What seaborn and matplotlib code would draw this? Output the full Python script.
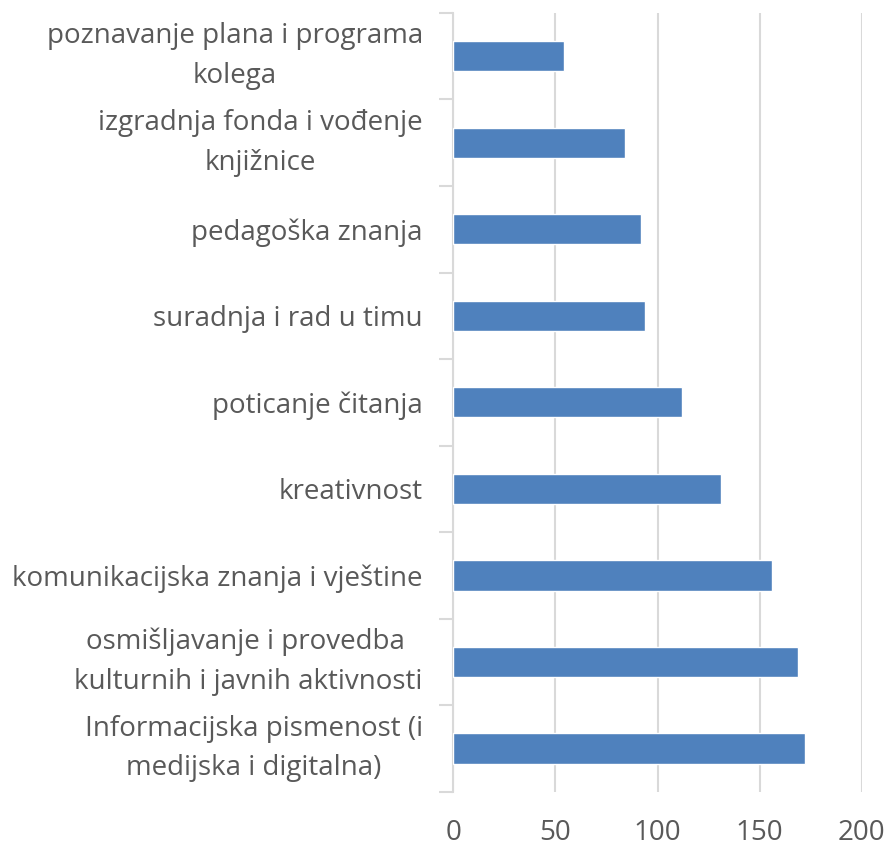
import matplotlib
matplotlib.use("Agg")
import matplotlib.pyplot as plt
import seaborn as sns
import pandas as pd

categories = [
    "poznavanje plana i programa\nkolega",
    "izgradnja fonda i vođenje\nknjižnice",
    "pedagoška znanja",
    "suradnja i rad u timu",
    "poticanje čitanja",
    "kreativnost",
    "komunikacijska znanja i vještine",
    "osmišljavanje i provedba \nkulturnih i javnih aktivnosti",
    "Informacijska pismenost (i\nmedijska i digitalna)",
]
values = [54, 84, 92, 94, 112, 131, 156, 169, 172]
x_ticks = [0, 50, 100, 150, 200]

df = pd.DataFrame({"category": categories, "value": values})

sns.set_theme(style="white")
plt.rcParams["font.family"] = ["Open Sans", "DejaVu Sans"]

fig = plt.figure(figsize=(8.89, 8.48), dpi=100)
ax = fig.add_axes([0.51, 0.0664, 0.9693 - 0.51, 0.9847 - 0.0664])

sns.barplot(data=df, x="value", y="category", color="#4F81BD", saturation=1,
            width=0.35, edgecolor="white", linewidth=1.0, ax=ax, zorder=3)

ax.set_xlim(0, 200)
ax.set_ylim(len(categories) - 0.5, -0.5)
ax.set_xticks(x_ticks)
ax.set_xticklabels([str(t) for t in x_ticks])
ax.set_xlabel("")
ax.set_ylabel("")

ax.xaxis.grid(True, color="#D9D9D9", linewidth=1.5, zorder=0)
ax.yaxis.grid(False)
ax.set_axisbelow(True)

for s in ["top", "right", "bottom"]:
    ax.spines[s].set_visible(False)
ax.spines["left"].set_color("#D9D9D9")
ax.spines["left"].set_linewidth(1.5)

# y ticks at band boundaries (Excel style)
ax.set_yticks([i + 0.5 for i in range(-1, len(categories))], minor=True)
ax.tick_params(axis="y", which="minor", length=10, width=1.5, color="#D9D9D9", left=True)
ax.tick_params(axis="y", which="major", length=0, pad=22, labelsize=20, labelcolor="#595959")
ax.tick_params(axis="x", which="major", length=0, pad=20, labelsize=20, labelcolor="#595959")
for lbl in ax.get_yticklabels():
    lbl.set_multialignment("center")
    lbl.set_linespacing(1.55)
    if "\n" in lbl.get_text():
        lbl.set_verticalalignment("center")

fig.savefig("out.png", dpi=100)
